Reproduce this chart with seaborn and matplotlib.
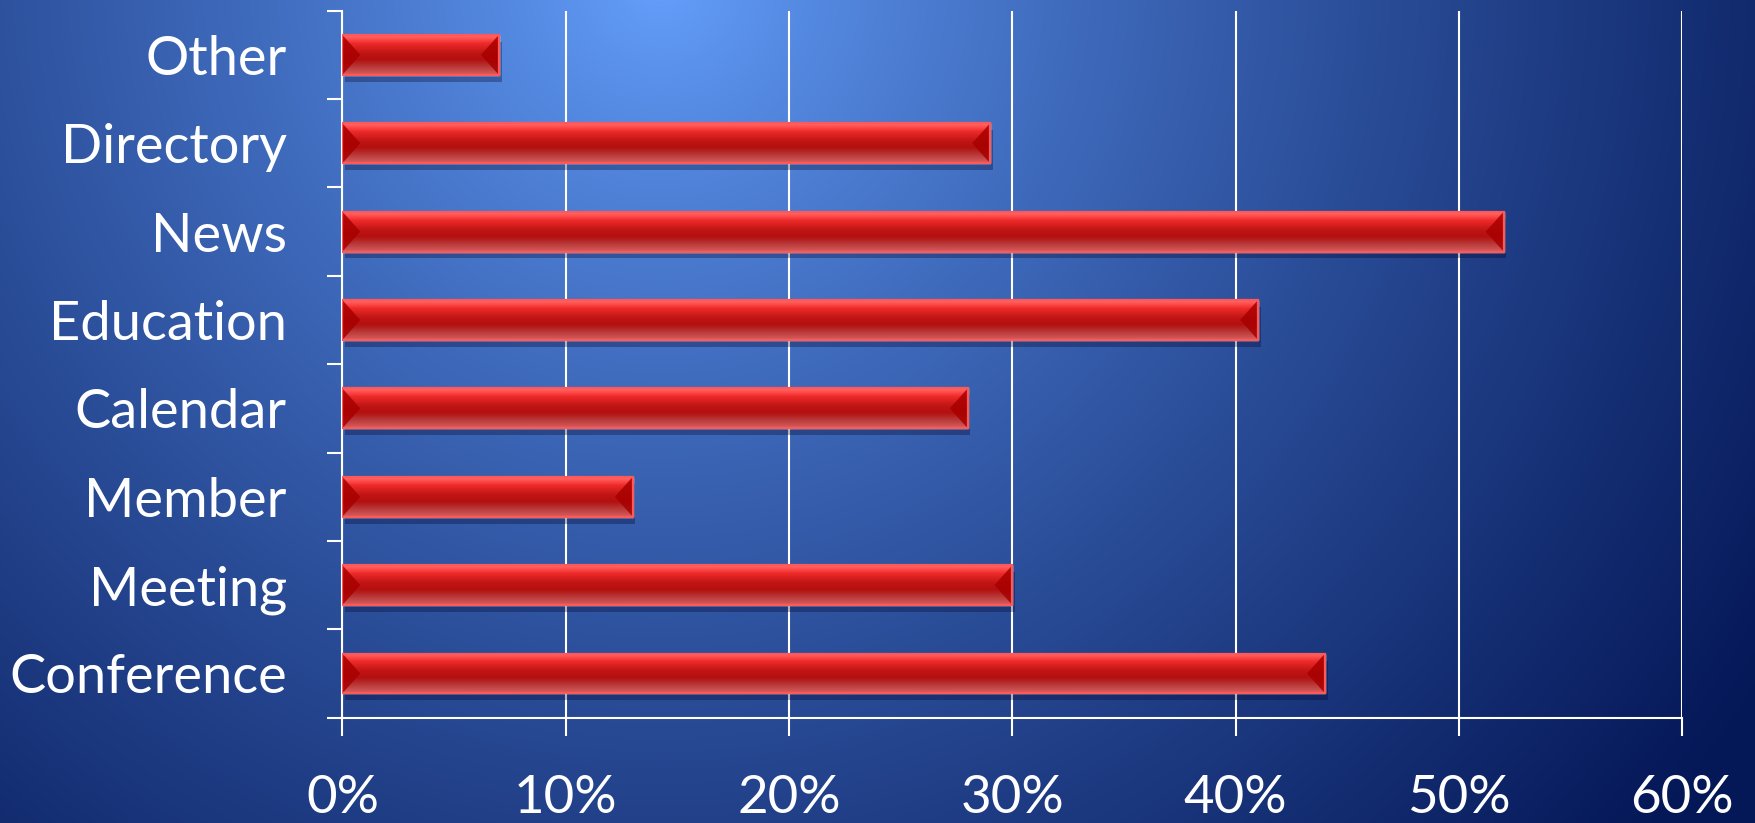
import numpy as np
import pandas as pd
import matplotlib
matplotlib.use("Agg")
import matplotlib.pyplot as plt
import seaborn as sns
from matplotlib.colors import LinearSegmentedColormap, to_rgb
from matplotlib.patches import Polygon, Rectangle
from matplotlib import patheffects as pe
from matplotlib.ticker import FuncFormatter, FixedLocator

categories = ["Other", "Directory", "News", "Education", "Calendar", "Member", "Meeting", "Conference"]
shares = [7, 29, 52, 41, 28, 13, 30, 44]
x_ticks = [0, 10, 20, 30, 40, 50, 60]

df = pd.DataFrame({"category": categories, "share": shares})

sns.set_theme(style="white")
plt.rcParams["font.family"] = ["Lato", "DejaVu Sans"]

fig = plt.figure(figsize=(17.56, 8.23), dpi=100)

# blue radial backdrop, bright near the top, navy towards bottom right
bg = fig.add_axes([0, 0, 1, 1], zorder=-1)
H, W = 823, 1756
yy, xx = np.mgrid[0:H, 0:W]
d = np.sqrt((xx - 660) ** 2 + (yy + 20) ** 2)
t = np.clip(d / 1300, 0, 1) ** 0.8
bright = np.array(to_rgb("#66a2ff"))
dark = np.array(to_rgb("#051858"))
img = bright * (1 - t[..., None]) + dark * t[..., None]
bg.imshow(img, aspect="auto", extent=[0, 1, 0, 1], origin="upper")
bg.axis("off")

ax = fig.add_axes([0.195, 0.128, 0.763, 0.859])
ax.set_facecolor("none")
sns.barplot(data=df, x="share", y="category", orient="h", color="#c81414",
            width=0.45, ax=ax, zorder=3, saturation=1)

ax.set_xlim(0, 60)
ax.set_ylim(len(categories) - 0.5, -0.5)

# bevelled look for each bar
bevel = LinearSegmentedColormap.from_list("bevel", [
    (0.0, "#ff6a6a"), (0.1, "#ff4a4a"), (0.2, "#ee2a2a"), (0.45, "#c01414"),
    (0.62, "#b31010"), (0.78, "#b83434"), (0.92, "#c85050"), (1.0, "#e05a5a")])
grad = np.linspace(0, 1, 64)[:, None]
px_x = ax.bbox.width / 60
px_y = ax.bbox.height / len(categories)
for patch in list(ax.patches):
    x0, y0 = patch.get_x(), patch.get_y()
    w, h = patch.get_width(), patch.get_height()
    patch.set_path_effects([pe.SimplePatchShadow(offset=(2, -5), shadow_rgbFace="#000022", alpha=0.3),
                            pe.Normal()])
    im = ax.imshow(grad, cmap=bevel, aspect="auto", origin="upper",
                   extent=[x0, x0 + w, y0 + h, y0], zorder=3.5)
    im.set_clip_path(patch)
    tw = 0.45 * h * px_y / px_x
    ax.add_patch(Polygon([(x0, y0), (x0, y0 + h), (x0 + tw, y0 + h / 2)],
                         closed=True, fc="#a80000", ec="none", alpha=0.85, zorder=3.6))
    ax.add_patch(Polygon([(x0 + w, y0), (x0 + w, y0 + h), (x0 + w - tw, y0 + h / 2)],
                         closed=True, fc="#a80000", ec="none", alpha=0.85, zorder=3.6))
    ax.add_patch(Rectangle((x0, y0), w, h, fill=False, ec="#ff5858", lw=1.6, zorder=3.8))

ax.set_xlim(0, 60)
ax.set_ylim(len(categories) - 0.5, -0.5)

ax.set_xticks(x_ticks)
ax.xaxis.set_major_formatter(FuncFormatter(lambda v, p: f"{v:.0f}%"))
ax.xaxis.grid(True, color="white", lw=1.5)
ax.set_axisbelow(True)
ax.yaxis.set_minor_locator(FixedLocator(np.arange(-0.5, len(categories), 1)))

for side in ["top", "right"]:
    ax.spines[side].set_visible(False)
for side in ["left", "bottom"]:
    ax.spines[side].set_color("white")
    ax.spines[side].set_linewidth(1.5)

ax.tick_params(axis="y", which="major", length=0, pad=40, labelsize=39, labelcolor="white")
ax.tick_params(axis="y", which="minor", left=True, length=11, width=1.5, color="white")
ax.tick_params(axis="x", which="major", bottom=True, length=13, width=1.5, color="white",
               pad=28, labelsize=38, labelcolor="white")
ax.set_xlabel("")
ax.set_ylabel("")

fig.savefig("out.png", dpi=100)
